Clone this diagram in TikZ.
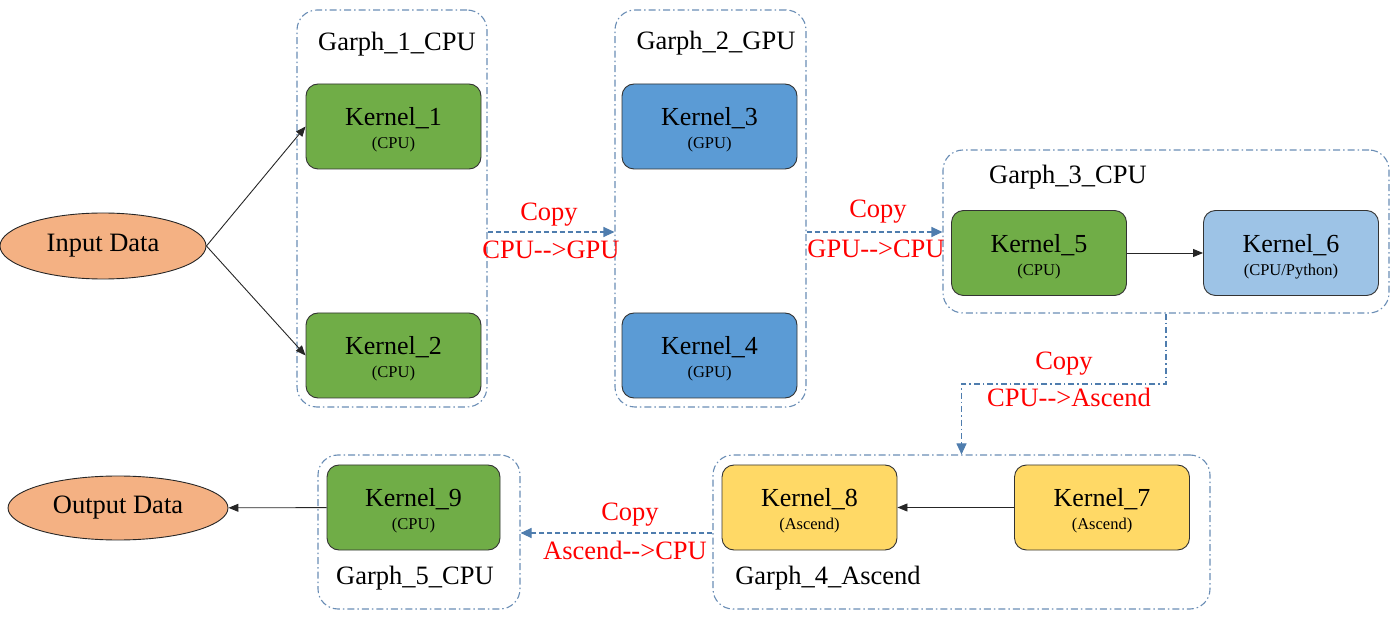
\documentclass[tikz,border=0pt]{standalone}
\usepackage{fontspec}
\setmainfont{Liberation Serif}
\usetikzlibrary{shapes.geometric,arrows.meta}
\definecolor{cpugreen}{HTML}{70AD47}
\definecolor{gpublue}{HTML}{5B9BD5}
\definecolor{pyblue}{HTML}{9DC3E6}
\definecolor{ascyellow}{HTML}{FFD966}
\definecolor{dataorange}{HTML}{F4B183}
\definecolor{groupline}{HTML}{6A8DB5}
\definecolor{copyblue}{HTML}{4F7DAE}
\newcommand{\devtag}[1]{{\fontsize{16.5}{16.5}\selectfont #1}}
\tikzset{
  kernelbox/.style={draw=black!80, line width=0.9pt, rounded corners=12pt, minimum width=175pt, minimum height=85pt, inner sep=0pt, align=center, font=\fontsize{26}{26}\selectfont},
  groupbox/.style={draw=groupline, line width=1.1pt, dash pattern=on 7pt off 3pt on 1.5pt off 3pt, rounded corners=20pt, inner sep=0pt},
  datanode/.style={ellipse, draw=black!85, line width=0.9pt, fill=dataorange, inner sep=0pt, font=\fontsize{26.5}{26}\selectfont},
  grouplabel/.style={font=\fontsize{26.5}{26}\selectfont},
  copytext/.style={text=red, font=\fontsize{26.5}{26}\selectfont},
  flow/.style={-{Triangle[length=10pt,width=8pt]}, black!85, line width=0.9pt},
  copyline/.style={draw=copyblue, line width=1.1pt, dash pattern=on 5pt off 3pt, -{Triangle[length=11pt,width=10pt]}, copyblue}
}
\begin{document}
\begin{tikzpicture}[x=1pt,y=-1pt]
\useasboundingbox (0,0) rectangle (1390,617);
\node (g1) at (392,208.5) [groupbox, minimum width=190pt, minimum height=397pt] {};
\node (g2) at (710.5,208.5) [groupbox, minimum width=191pt, minimum height=397pt] {};
\node (g3) at (1166,231.5) [groupbox, minimum width=446pt, minimum height=163pt] {};
\node (g4) at (961.5,532) [groupbox, minimum width=497pt, minimum height=154pt] {};
\node (g5) at (419,532) [groupbox, minimum width=202pt, minimum height=154pt] {};
\node (l1) at (397,44) [grouplabel] {Garph\_1\_CPU};
\node (l2) at (716,43) [grouplabel] {Garph\_2\_GPU};
\node (l3) at (1068,177) [grouplabel] {Garph\_3\_CPU};
\node (l4) at (828,578) [grouplabel] {Garph\_4\_Ascend};
\node (l5) at (415,578) [grouplabel] {Garph\_5\_CPU};
\node (in) at (103,246) [datanode, minimum width=206pt, minimum height=66pt] {Input Data};
\node (out) at (118,508) [datanode, minimum width=220pt, minimum height=64pt] {Output Data};
\node (k1) at (393.5,126.5) [kernelbox, fill=cpugreen] {\rule{0pt}{25pt}Kernel\_1\\[-3pt]\devtag{(CPU)}};
\node (k2) at (393.5,355.5) [kernelbox, fill=cpugreen] {\rule{0pt}{25pt}Kernel\_2\\[-3pt]\devtag{(CPU)}};
\node (k3) at (709.5,126.5) [kernelbox, fill=gpublue] {\rule{0pt}{25pt}Kernel\_3\\[-3pt]\devtag{(GPU)}};
\node (k4) at (709.5,355.5) [kernelbox, fill=gpublue] {\rule{0pt}{25pt}Kernel\_4\\[-3pt]\devtag{(GPU)}};
\node (k5) at (1039,253) [kernelbox, fill=cpugreen] {\rule{0pt}{25pt}Kernel\_5\\[-3pt]\devtag{(CPU)}};
\node (k6) at (1291,253) [kernelbox, fill=pyblue] {\rule{0pt}{25pt}Kernel\_6\\[-3pt]\devtag{(CPU/Python)}};
\node (k7) at (1102,507.5) [kernelbox, fill=ascyellow] {\rule{0pt}{25pt}Kernel\_7\\[-3pt]\devtag{(Ascend)}};
\node (k8) at (809.5,507.5) [kernelbox, fill=ascyellow] {\rule{0pt}{25pt}Kernel\_8\\[-3pt]\devtag{(Ascend)}};
\node (k9) at (413.5,507.5) [kernelbox, fill=cpugreen, minimum width=173pt] {\rule{0pt}{25pt}Kernel\_9\\[-3pt]\devtag{(CPU)}};
\draw[flow] (in.east) -- (k1.west);
\draw[flow] (in.east) -- (k2.west);
\draw[flow] (k5) -- (k6);
\draw[flow] (k7) -- (k8);
\draw[flow] (k9) -- (out);
\draw[copyline] (g1.east |- 0,232) -- (g2.west |- 0,232);
\draw[copyline] (g2.east |- 0,232) -- (g3.west |- 0,232);
\coordinate (bend) at (1064,384);
\draw[copyline, dash pattern=on 6pt off 3pt on 1.5pt off 3pt] (g3.south) |- (bend) -| (g4.north);
\draw[copyline] (g4.west |- 0,533) -- (g5.east |- 0,533);
\node (c1) at (549,215) [copytext] {Copy};
\node (c1t) at (551,250) [copytext] {CPU-{}->GPU};
\node (c2) at (878,212) [copytext] {Copy};
\node (c2t) at (876,249) [copytext] {GPU-{}->CPU};
\node (c3) at (1064,364) [copytext] {Copy};
\node (c3t) at (1069,397) [copytext] {CPU-{}->Ascend};
\node (c4) at (630,515) [copytext] {Copy};
\node (c4t) at (625,550) [copytext] {Ascend-{}->CPU};
\end{tikzpicture}
\end{document}
